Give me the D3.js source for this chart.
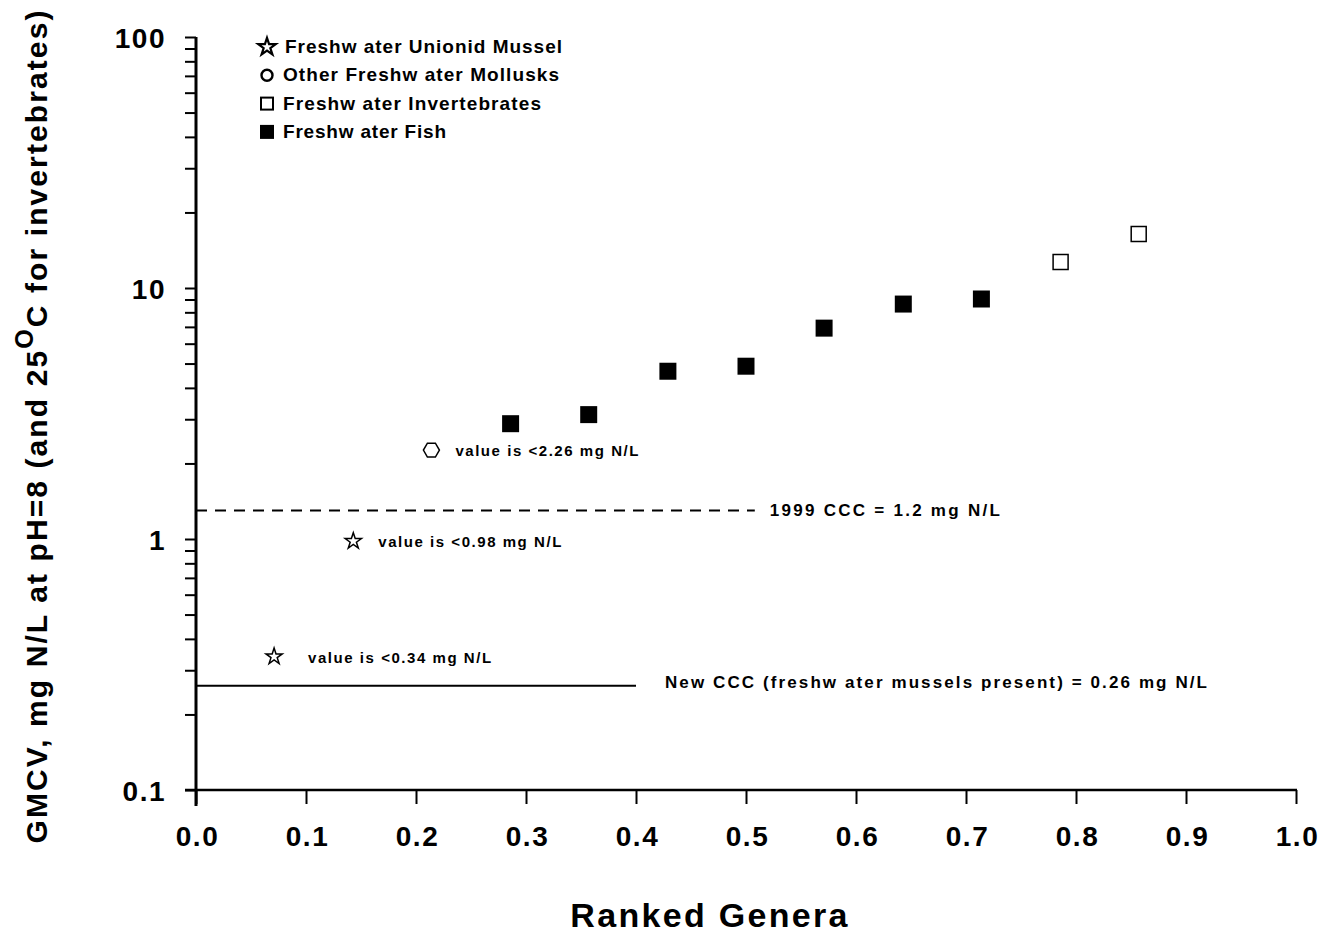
<!DOCTYPE html>
<html>
<head>
<meta charset="utf-8">
<script src="https://cdn.jsdelivr.net/npm/d3@7"></script>
<style>
  body { margin: 0; background: #fff; }
  svg { display: block; font-family: "Liberation Sans", Arial, sans-serif; }
  .tick text { font-weight: bold; font-size: 28px; letter-spacing: 1.5px; fill: #000; }
  .tick line { stroke: #000; stroke-width: 2px; }
</style>
</head>
<body>
<div id="chart"></div>
<script>
// genera ranked by GMCV (x = rank proportion, y = GMCV mg N/L)
var unionidRank = [0.071, 0.143],
    unionidGmcv = [0.34, 0.98];
var molluskRank = [0.214],
    molluskGmcv = [2.26];
var fishRank = [0.286, 0.357, 0.429, 0.5, 0.571, 0.643, 0.714],
    fishGmcv = [2.88, 3.13, 4.66, 4.88, 6.92, 8.63, 9.04];
var invertRank = [0.786, 0.857],
    invertGmcv = [12.7, 16.4];

// "less than" notes for the unbounded values
var noteRank = [0.071, 0.143, 0.214],
    noteGmcv = [0.34, 0.98, 2.26],
    noteText = ["value is <0.34 mg N/L", "value is <0.98 mg N/L", "value is <2.26 mg N/L"];

// criterion reference lines
var refValue = [1.3, 0.26],
    refEnd = [0.508, 0.4],
    refText = ["1999 CCC = 1.2 mg N/L", "New  CCC (freshw ater mussels present) = 0.26 mg N/L"];

var legendLabels = ["Freshw ater Unionid Mussel", "Other Freshw ater Mollusks", "Freshw ater Invertebrates", "Freshw ater Fish"];

var xTicks = [0, 0.1, 0.2, 0.3, 0.4, 0.5, 0.6, 0.7, 0.8, 0.9, 1.0];
var yDecades = [0.1, 1, 10, 100];

var width = 1335,
    height = 935;

var svg = d3.select("#chart").append("svg")
    .attr("width", width)
    .attr("height", height);

var x = d3.scaleLinear().domain([0, 1]).range([196, 1296]);
var y = d3.scaleLog().domain([0.1, 100]).range([790, 37]);

// minor + major ticks on the log axis
var yTicks = [];
yDecades.forEach(function(d) {
  if (d === 100) { yTicks.push(d); return; }
  for (var m = 1; m < 10; m++) yTicks.push(+(d * m).toPrecision(3));
});

var yAxis = svg.append("g")
    .attr("transform", "translate(196,0)")
    .call(d3.axisLeft(y)
      .tickValues(yTicks)
      .tickSize(11)
      .tickPadding(19)
      .tickFormat(function(d) { return yDecades.indexOf(d) >= 0 ? String(d) : ""; }));
yAxis.select(".domain").remove();
yAxis.selectAll("text").attr("dy", "0.36em");

var xAxis = svg.append("g")
    .attr("transform", "translate(0,790)")
    .call(d3.axisBottom(x)
      .tickValues(xTicks)
      .tickSize(14)
      .tickPadding(22)
      .tickFormat(d3.format(".1f")));
xAxis.select(".domain").remove();
xAxis.selectAll("text").attr("dx", "1px");

// axis lines, drawn past the corner like the original
svg.append("line")
    .attr("x1", x(0)).attr("x2", x(0))
    .attr("y1", y(100)).attr("y2", y(0.1) + 16)
    .attr("stroke", "#000").attr("stroke-width", 3);
svg.append("line")
    .attr("x1", x(0) - 11).attr("x2", x(1) + 1)
    .attr("y1", y(0.1)).attr("y2", y(0.1))
    .attr("stroke", "#000").attr("stroke-width", 2.5);

// reference lines
refValue.forEach(function(v, i) {
  svg.append("line")
      .attr("x1", x(0)).attr("x2", x(refEnd[i]))
      .attr("y1", y(v)).attr("y2", y(v))
      .attr("stroke", "#000")
      .attr("stroke-width", 2)
      .attr("stroke-dasharray", i === 0 ? "11,8" : null);
});
svg.append("text")
    .attr("x", x(refEnd[0]) + 15).attr("y", y(refValue[0]) + 6)
    .attr("font-size", 17).attr("font-weight", "bold")
    .attr("textLength", 230).attr("lengthAdjust", "spacing")
    .text(refText[0]);
svg.append("text")
    .attr("x", x(refEnd[1]) + 29).attr("y", y(refValue[1]) + 2)
    .attr("font-size", 17).attr("font-weight", "bold")
    .attr("textLength", 542).attr("lengthAdjust", "spacing")
    .text(refText[1]);

// symbols
var star = d3.symbol().type(d3.symbolStar).size(82);
var openSquare = d3.symbol().type(d3.symbolSquare).size(225);
var fullSquare = d3.symbol().type(d3.symbolSquare).size(289);

function hexagon(r) {
  var pts = d3.range(6).map(function(k) {
    var a = k * Math.PI / 3;
    return [r * Math.cos(a), r * Math.sin(a)];
  });
  return "M" + pts.join("L") + "Z";
}

svg.selectAll(".unionid")
    .data(unionidRank)
  .enter().append("path")
    .attr("class", "unionid")
    .attr("d", star())
    .attr("transform", function(d, i) { return "translate(" + x(d) + "," + y(unionidGmcv[i]) + ")"; })
    .attr("fill", "#fff").attr("stroke", "#000").attr("stroke-width", 1.5);

svg.selectAll(".mollusk")
    .data(molluskRank)
  .enter().append("path")
    .attr("class", "mollusk")
    .attr("d", hexagon(8))
    .attr("transform", function(d, i) { return "translate(" + x(d) + "," + y(molluskGmcv[i]) + ")"; })
    .attr("fill", "#fff").attr("stroke", "#000").attr("stroke-width", 1.5);

svg.selectAll(".fish")
    .data(fishRank)
  .enter().append("path")
    .attr("class", "fish")
    .attr("d", fullSquare())
    .attr("transform", function(d, i) { return "translate(" + x(d) + "," + y(fishGmcv[i]) + ")"; })
    .attr("fill", "#000");

svg.selectAll(".invert")
    .data(invertRank)
  .enter().append("path")
    .attr("class", "invert")
    .attr("d", openSquare())
    .attr("transform", function(d, i) { return "translate(" + x(d) + "," + y(invertGmcv[i]) + ")"; })
    .attr("fill", "#fff").attr("stroke", "#000").attr("stroke-width", 1.5);

// notes next to the censored points
var noteDx = [34, 25, 24];
svg.selectAll(".note")
    .data(noteRank)
  .enter().append("text")
    .attr("class", "note")
    .attr("x", function(d, i) { return x(d) + noteDx[i]; })
    .attr("y", function(d, i) { return y(noteGmcv[i]) + 6; })
    .attr("font-size", 15).attr("font-weight", "bold")
    .attr("textLength", 183).attr("lengthAdjust", "spacing")
    .text(function(d, i) { return noteText[i]; });

// legend
var legend = svg.append("g").attr("transform", "translate(267,47)");
var legendWidths = [277, 276, 258, 163];
legendLabels.forEach(function(label, i) {
  var row = legend.append("g").attr("transform", "translate(0," + (i * 28.3) + ")");
  if (i === 0) {
    row.append("path").attr("d", d3.symbol().type(d3.symbolStar).size(95)())
      .attr("fill", "#fff").attr("stroke", "#000").attr("stroke-width", 2.2);
  } else if (i === 1) {
    row.append("circle").attr("r", 5.5)
      .attr("fill", "#fff").attr("stroke", "#000").attr("stroke-width", 2.4);
  } else if (i === 2) {
    row.append("rect").attr("x", -6).attr("y", -6).attr("width", 12).attr("height", 12)
      .attr("fill", "#fff").attr("stroke", "#000").attr("stroke-width", 2);
  } else {
    row.append("rect").attr("x", -7).attr("y", -7).attr("width", 14).attr("height", 14)
      .attr("fill", "#000");
  }
  row.append("text")
      .attr("x", i === 0 ? 18 : 16).attr("y", 6)
      .attr("font-size", 19).attr("font-weight", "bold")
      .attr("textLength", legendWidths[i]).attr("lengthAdjust", "spacing")
      .text(label);
});

// axis titles
svg.append("text")
    .attr("x", 710).attr("y", 927)
    .attr("text-anchor", "middle")
    .attr("font-size", 34).attr("font-weight", "bold")
    .attr("letter-spacing", "2.3px")
    .text("Ranked Genera");

var yTitle = svg.append("text")
    .attr("transform", "translate(47,426)rotate(-90)")
    .attr("text-anchor", "middle")
    .attr("font-size", 30).attr("font-weight", "bold")
    .attr("letter-spacing", "2.1px");
yTitle.append("tspan").text("GMCV, mg N/L at pH=8 (and 25");
yTitle.append("tspan").attr("dy", -14).attr("font-size", 25).text("O");
yTitle.append("tspan").attr("dy", 14).text("C for invertebrates)");
</script>
</body>
</html>
